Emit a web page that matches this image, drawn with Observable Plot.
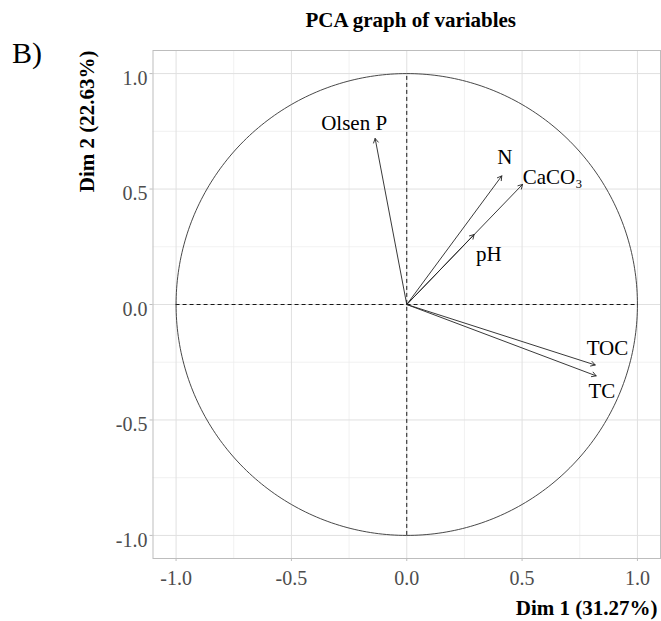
<!DOCTYPE html>
<html>
<head>
<meta charset="utf-8">
<script src="https://cdn.jsdelivr.net/npm/d3@7"></script>
<script src="https://cdn.jsdelivr.net/npm/@observablehq/plot@0.6"></script>
<style>
  html, body { margin: 0; padding: 0; background: #fff; }
  #chart svg { display: block; }
</style>
</head>
<body>
<div id="chart"></div>
<script>
// ---- data ----
const variables = ["Olsen P", "N", "CaCO₃", "pH", "TOC", "TC"];
const dim1 = [-0.137, 0.412, 0.502, 0.292, 0.817, 0.821];
const dim2 = [0.719, 0.557, 0.520, 0.303, -0.262, -0.309];
// label anchor positions (data units, as placed in the reference)
const labelDim1 = [-0.228, 0.425, 0.632, 0.356, 0.870, 0.846];
const labelDim2 = [0.784, 0.638, 0.553, 0.217, -0.189, -0.374];
const majorTicks = [-1, -0.5, 0, 0.5, 1];
const minorTicks = [-0.75, -0.25, 0.25, 0.75];
const chartTitle = "PCA graph of variables";
const panelTag = "B)";
const xTitle = "Dim 1 (31.27%)";
const yTitle = "Dim 2 (22.63%)";

const table = variables.map((v, i) => ({
  name: v, x: dim1[i], y: dim2[i], lx: labelDim1[i], ly: labelDim2[i]
}));
// unit correlation circle (reference geometry)
const circle = d3.range(0, 361).map(a => ({
  x: Math.cos(a * Math.PI / 180), y: Math.sin(a * Math.PI / 180)
}));

const fmt = d => d.toFixed(1);
const serif = "Liberation Serif, Times New Roman, serif";

const chart = Plot.plot({
  width: 661,
  height: 621,
  marginLeft: 152.5,
  marginRight: 1,
  marginTop: 50,
  marginBottom: 63,
  style: { fontFamily: serif, fontSize: "20px", background: "#fff", color: "#000" },
  x: { domain: [-1.1, 1.1] },
  y: { domain: [-1.1, 1.1] },
  marks: [
    Plot.ruleX(minorTicks, { stroke: "#ebebeb", strokeWidth: 0.7 }),
    Plot.ruleY(minorTicks, { stroke: "#ebebeb", strokeWidth: 0.7 }),
    Plot.ruleX(majorTicks, { stroke: "#e0e0e0", strokeWidth: 1 }),
    Plot.ruleY(majorTicks, { stroke: "#e0e0e0", strokeWidth: 1 }),
    Plot.frame({ stroke: "#bdbdbd", strokeWidth: 1 }),
    Plot.axisX(majorTicks, {
      tickSize: 3, tickPadding: 9, tickFormat: fmt,
      stroke: "#bdbdbd", fill: "#4d4d4d", fontSize: 20, label: null
    }),
    Plot.axisY(majorTicks, {
      tickSize: 3, tickFormat: () => "", stroke: "#bdbdbd", label: null
    }),
    Plot.axisY(majorTicks, {
      tickSize: 0, tickPadding: 5.5, dy: 5, tickFormat: fmt,
      fill: "#4d4d4d", fontSize: 20, label: null
    }),
    Plot.ruleX([0], { y1: -1, y2: 1, stroke: "#000", strokeWidth: 0.9, strokeDasharray: "4,3" }),
    Plot.ruleY([0], { x1: -1, x2: 1, stroke: "#000", strokeWidth: 0.9, strokeDasharray: "4,3" }),
    Plot.line(circle, { x: "x", y: "y", stroke: "#333", strokeWidth: 0.9 }),
    Plot.arrow(table, {
      x1: d => 0, y1: d => 0, x2: "x", y2: "y",
      stroke: "#222", strokeWidth: 0.9, headLength: 8, bend: 0
    }),
    Plot.text(table, {
      x: "lx", y: "ly", text: "name", fill: "#000", fontSize: 21
    }),
    Plot.text([chartTitle], {
      frameAnchor: "top", lineAnchor: "bottom", dx: 4, dy: -24,
      fontWeight: "bold", fontSize: 21, fill: "#000"
    }),
    Plot.text([panelTag], {
      frameAnchor: "top-left", textAnchor: "start", lineAnchor: "bottom",
      dx: -141, dy: 12, fontSize: 30, fill: "#000"
    }),
    Plot.text([xTitle], {
      frameAnchor: "bottom-right", textAnchor: "end", lineAnchor: "bottom",
      dx: -3, dy: 56, fontWeight: "bold", fontSize: 21, fill: "#000"
    }),
    Plot.text([yTitle], {
      frameAnchor: "top-left", textAnchor: "end", lineAnchor: "bottom",
      rotate: -90, dx: -59, dy: 0, fontWeight: "bold", fontSize: 21, fill: "#000"
    })
  ]
});
document.getElementById("chart").appendChild(chart);
</script>
</body>
</html>
